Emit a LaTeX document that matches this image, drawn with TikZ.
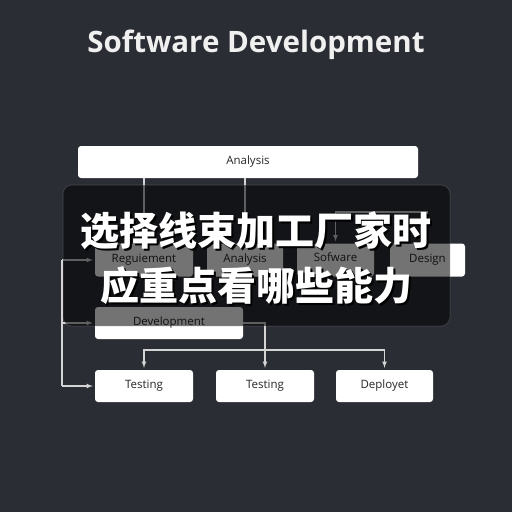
\documentclass[tikz,border=0pt]{standalone}
\usepackage{fontspec}
\setmainfont{Open Sans}
\newfontfamily\cjk{Noto Sans CJK SC}
\definecolor{bg}{RGB}{43,45,52}
\definecolor{ln}{RGB}{212,212,212}
\definecolor{txt}{RGB}{38,38,38}
\newcommand\shadowed[1]{\makebox[0pt][l]{\hspace{2pt}\raisebox{-2pt}{\textcolor{black}{#1}}}#1}
\begin{document}
\begin{tikzpicture}[x=1pt,y=-1pt,
    box/.style={fill=white,rounded corners=3pt,minimum height=33pt,inner sep=0pt,text=txt,font=\fontsize{11.5}{13}\selectfont},
    link/.style={ln,line width=1.1pt},
    arr/.style={link,-latex,shorten >=2pt},
    cjkline/.style={font=\cjk\bfseries\fontsize{39}{39}\selectfont,inner sep=0pt,text=white}]
  \useasboundingbox (0,0) rectangle (512,512);
  \fill[bg] (0,0) rectangle (512,512);
  \node[text=white!94!black,font=\bfseries\fontsize{29.5}{32}\selectfont] (title) at (256,45) {Software Development};
  % top box and the row under it
  \node[box,minimum width=340pt,minimum height=32pt] (ana) at (248,162) {Analysis};
  \node[box,minimum width=98pt] (req) at (144,260) {Reguiement};
  \node[box,minimum width=76pt] (ana2) at (245,260) {Analysis};
  \node[box,minimum width=77pt,anchor=center] (sof) at (335.5,260) {\raisebox{6pt}{Sofware}};
  \node[box,minimum width=75pt] (des) at (427.5,260) {Design};
  \node[box,minimum width=148pt,minimum height=32pt] (dev) at (169,323) {Development};
  \node[box,minimum width=98pt,minimum height=32pt] (t1) at (144,386) {Testing};
  \node[box,minimum width=98pt,minimum height=32pt] (t2) at (265,386) {Testing};
  \node[box,minimum width=97pt,minimum height=32pt] (dep) at (384.5,386) {Deployet};
  \coordinate (bend) at (427.5,212);
  \coordinate (lt) at (62,260);
  \coordinate (lb) at (62,386);
  \coordinate (bus) at (265,350);
  \draw[link] (ana.south -| req.north) -- (req.north);
  \draw[link] (ana.south -| ana2.north) -- (ana2.north);
  \draw[arr] (des.north) -- (bend) -| (sof.north);
  \draw[link] (lt) -- (lb);
  \draw[arr] (lt) -- (req.west);
  \draw[arr] (lt |- dev.west) -- (dev.west);
  \draw[arr] (lb) -- (t1.west);
  \draw[arr] (dev.east) -| (t2.north);
  \draw[link,latex-latex,shorten <=2pt,shorten >=2pt] (t1.north) |- (bus) -| (dep.north);
  % dark veil and the headline on it
  \fill[black,fill opacity=0.55,rounded corners=9pt] (63,185) rectangle (450,326);
  \draw[white,opacity=0.12,line width=1pt,rounded corners=9pt] (63,185) rectangle (450,326);
  \node[cjkline] (cn1) at (256,232) {\shadowed{选择线束加工厂家时}};
  \node[cjkline] (cn2) at (256.5,287) {\shadowed{应重点看哪些能力}};
\end{tikzpicture}
\end{document}
